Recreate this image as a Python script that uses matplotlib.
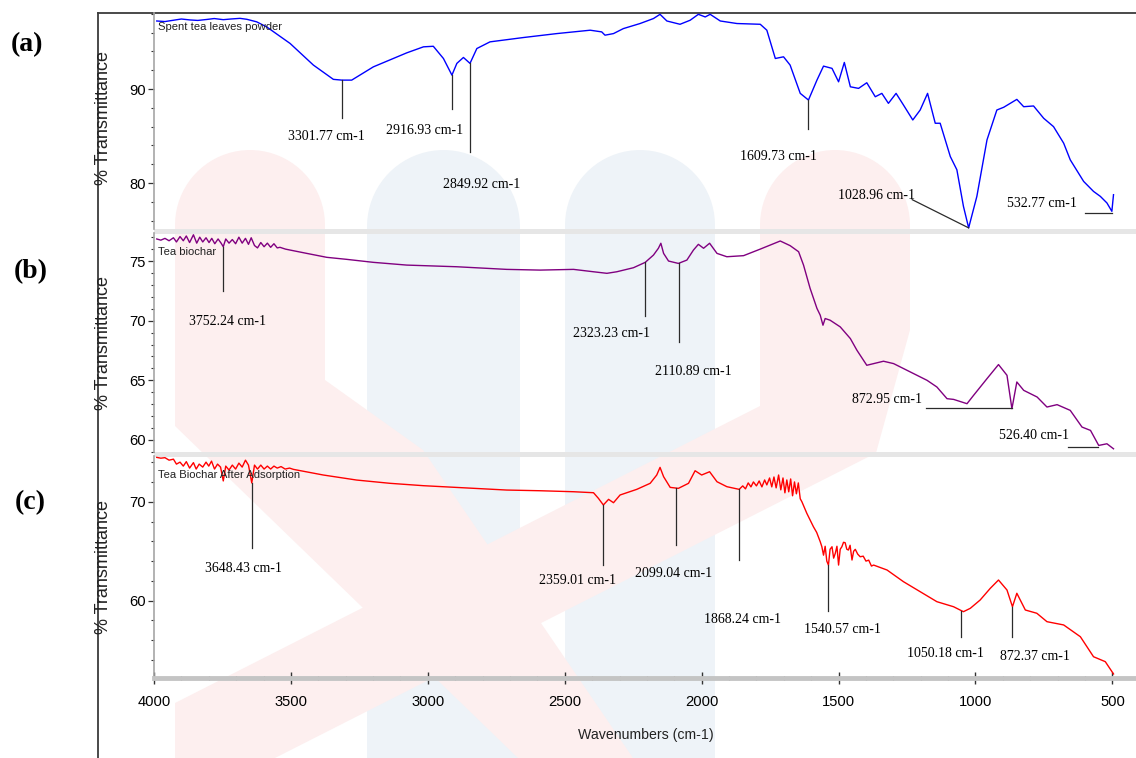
import numpy as np
import matplotlib
matplotlib.use("Agg")
import matplotlib.pyplot as plt
from matplotlib import font_manager as fm
from matplotlib.patches import Polygon, Rectangle

# ---------------- data ----------------
# (a) Spent tea leaves powder
a_wn = [3990, 3960, 3929, 3900, 3868, 3840, 3808, 3780, 3747, 3720, 3686, 3661, 3625, 3588,
        3503, 3418, 3345, 3314, 3278, 3199, 3077, 3016, 2980, 2943, 2912, 2894, 2870, 2846,
        2821, 2773, 2651, 2529, 2407, 2365, 2353, 2322, 2286, 2225, 2176, 2152, 2127, 2079,
        2042, 2012, 1987, 1969, 1932, 1871, 1786, 1762, 1731, 1701, 1677, 1640, 1610, 1579,
        1555, 1524, 1500, 1479, 1457, 1427, 1397, 1366, 1342, 1318, 1290, 1263, 1229, 1202,
        1175, 1147, 1129, 1092, 1068, 1044, 1025, 995, 958, 922, 897, 849, 824, 788, 751,
        715, 678, 654, 605, 569, 544, 520, 502, 496]
a_T = [97.24, 97.18, 97.32, 97.45, 97.35, 97.30, 97.40, 97.50, 97.38, 97.45, 97.52, 97.42, 97.15, 96.60,
       94.85, 92.55, 91.03, 90.95, 90.95, 92.36, 93.85, 94.49, 94.55, 93.25, 91.48, 92.73, 93.36, 92.73,
       94.31, 95.02, 95.48, 95.90, 96.26, 96.08, 95.73, 95.90, 96.43, 96.97, 97.50, 97.95, 97.24, 96.89,
       97.32, 97.95, 97.67, 97.95, 97.24, 96.97, 96.89, 96.26, 93.25, 93.43, 92.55, 89.54, 88.83, 90.95,
       92.44, 92.20, 90.77, 92.83, 90.24, 90.07, 90.67, 89.18, 89.54, 88.48, 89.54, 88.30, 86.71, 87.77,
       89.54, 86.36, 86.36, 82.82, 81.41, 77.52, 75.23, 78.58, 84.59, 87.77, 88.06, 88.90, 88.12, 88.20, 86.89,
       86.00, 84.24, 82.47, 80.17, 79.11, 78.58, 77.88, 76.99, 78.76]

# (b) Tea biochar
b_wn = [3990, 3975, 3960, 3945, 3929, 3918, 3905, 3893, 3882, 3870, 3856, 3844, 3833, 3822, 3810,
        3799, 3789, 3778, 3766, 3755, 3747, 3738, 3726, 3714, 3702, 3690, 3678, 3666, 3655, 3645,
        3633, 3622, 3610, 3598, 3586, 3574, 3562, 3550, 3540, 3520, 3503, 3442, 3369, 3296, 3199,
        3077, 2894, 2712, 2590, 2468, 2395, 2346, 2310, 2249, 2206, 2176, 2158, 2149, 2139, 2121,
        2085, 2054, 2030, 2012, 1993, 1971, 1944, 1908, 1847, 1786, 1713, 1677, 1646, 1628, 1604,
        1579, 1567, 1557, 1549, 1531, 1494, 1457, 1433, 1397, 1372, 1336, 1299, 1238, 1177, 1141,
        1104, 1080, 1031, 1007, 958, 916, 885, 867, 849, 824, 775, 739, 702, 654, 611, 580, 550, 520, 496]
b_T = [76.85, 76.75, 76.90, 76.70, 76.95, 76.60, 77.05, 76.70, 77.10, 76.55, 77.20, 76.50, 77.00, 76.60, 76.95,
       76.55, 76.90, 76.45, 76.85, 76.50, 76.20, 76.85, 76.50, 76.80, 76.45, 77.00, 76.50, 76.90, 76.40, 76.95,
       76.30, 76.10, 76.55, 76.20, 76.50, 76.15, 76.45, 76.10, 76.15, 76.00, 75.92, 75.64, 75.31, 75.14, 74.89,
       74.66, 74.52, 74.30, 74.24, 74.30, 74.10, 73.97, 74.10, 74.44, 74.89, 75.50, 76.07, 76.49, 75.64, 75.00,
       74.80, 75.08, 75.92, 76.40, 76.07, 76.49, 75.64, 75.36, 75.45, 76.00, 76.68, 76.29, 75.78, 74.66, 72.71,
       71.03, 70.46, 69.62, 70.18, 70.04, 69.48, 68.50, 67.52, 66.26, 66.40, 66.60, 66.40, 65.70, 65.00, 64.44,
       63.46, 63.40, 63.04, 63.74, 65.14, 66.32, 65.42, 62.62, 64.86, 64.16, 63.60, 62.76, 62.96, 62.48, 61.08,
       60.80, 59.54, 59.68, 59.26]

# (c) Tea Biochar After Adsorption
c_wn = [3990, 3975, 3960, 3945, 3929, 3918, 3905, 3893, 3882, 3870, 3856, 3846, 3835, 3822, 3810,
        3800, 3790, 3779, 3768, 3757, 3747, 3738, 3726, 3714, 3702, 3690, 3678, 3666, 3655, 3643,
        3633, 3622, 3610, 3598, 3586, 3574, 3562, 3550, 3536, 3521, 3505, 3491, 3382, 3260, 3138,
        3016, 2833, 2712, 2590, 2468, 2395, 2377, 2359, 2340, 2322, 2298, 2237, 2188, 2164, 2152,
        2139, 2115, 2085, 2048, 2024, 2000, 1971, 1944, 1908, 1863, 1850, 1840, 1830, 1820, 1811,
        1800, 1790, 1780, 1770, 1762, 1752, 1744, 1736, 1728, 1719, 1711, 1703, 1696, 1689, 1682,
        1675, 1668, 1661, 1654, 1647, 1640, 1634, 1616, 1592, 1580, 1567, 1561, 1555, 1549, 1543,
        1537, 1531, 1524, 1518, 1512, 1506, 1500, 1494, 1488, 1482, 1476, 1470, 1464, 1458, 1451,
        1445, 1439, 1430, 1421, 1410, 1400, 1390, 1380, 1372, 1323, 1263, 1202, 1141, 1080, 1044,
        1019, 983, 946, 916, 885, 865, 849, 818, 776, 739, 678, 617, 569, 526, 496]
c_T = [74.48, 74.40, 74.45, 74.20, 74.30, 73.80, 74.00, 73.60, 74.05, 73.40, 73.95, 73.30, 73.80, 73.50, 74.00,
       73.60, 74.10, 73.30, 73.80, 73.50, 72.10, 73.60, 73.20, 73.70, 73.30, 73.90, 73.50, 74.20, 73.70, 71.90,
       73.70, 73.30, 73.70, 73.30, 73.60, 73.30, 73.60, 73.40, 73.55, 73.30, 73.40, 73.27, 72.70, 72.19, 71.86,
       71.62, 71.35, 71.18, 71.11, 71.01, 70.91, 70.34, 69.67, 70.24, 69.90, 70.68, 71.25, 71.86, 72.70, 73.47,
       72.53, 71.45, 71.35, 71.86, 73.13, 72.70, 73.03, 72.02, 71.52, 71.25, 71.60, 71.30, 71.90, 71.50, 72.00,
       71.60, 72.10, 71.50, 72.20, 71.70, 72.40, 71.50, 72.50, 71.40, 72.70, 71.20, 72.40, 70.90, 72.20, 71.00,
       72.30, 70.60, 72.00, 70.80, 71.90, 70.30, 70.00, 68.83, 67.48, 66.90, 65.96, 65.45, 64.60, 65.50, 64.00,
       63.60, 65.20, 65.45, 64.30, 64.79, 65.50, 63.60, 65.20, 65.45, 65.90, 65.86, 65.20, 65.12, 65.60, 64.11,
       65.00, 65.19, 64.70, 64.44, 64.50, 64.00, 64.10, 63.50, 63.60, 63.10, 61.92, 60.91, 59.90, 59.39, 58.89,
       59.23, 60.07, 61.25, 62.09, 61.08, 59.39, 60.75, 59.06, 58.73, 57.88, 57.55, 56.36, 54.34, 53.84, 52.60]

titles = ["Spent tea leaves powder", "Tea biochar", "Tea Biochar After Adsorption"]
panel_tags = ["(a)", "(b)", "(c)"]
colors = ["#0000ff", "#800080", "#ff0000"]

# peak annotations: label text, marker wavenumber, marker bottom, label position (wn, T)
a_peaks = [("3301.77 cm-1", 3314, 86.9, 3372, 85.0),
           ("2916.93 cm-1", 2912, 87.9, 3012, 85.6),
           ("2849.92 cm-1", 2846, 83.3, 2805, 79.8),
           ("1609.73 cm-1", 1610, 85.8, 1721, 82.8)]
b_peaks = [("3752.24 cm-1", 3747, 72.45, 3730, 69.9),
           ("2323.23 cm-1", 2206, 70.4, 2331, 68.9),
           ("2110.89 cm-1", 2081, 68.2, 2031, 65.7)]
c_peaks = [("3648.43 cm-1", 3643, 65.3, 3675, 63.27),
           ("2359.01 cm-1", 2359, 63.6, 2453, 62.09),
           ("2099.04 cm-1", 2093, 65.6, 2102, 62.7),
           ("1868.24 cm-1", 1863, 64.1, 1852, 58.12),
           ("1540.57 cm-1", 1537, 59.0, 1485, 57.11),
           ("1050.18 cm-1", 1052, 56.3, 1110, 54.69),
           ("872.37 cm-1", 865, 56.3, 784, 54.34)]

# ---------------- figure ----------------
W, H = 1136, 758
fig = plt.figure(figsize=(W / 100, H / 100), dpi=100)
fig.patch.set_facecolor("white")


def fx(px):
    return px / W


def fy(py):
    return 1 - py / H


names = {f.name for f in fm.fontManager.ttflist}
NARROW = "Liberation Sans Narrow" if "Liberation Sans Narrow" in names else "Liberation Sans"
nscale = 1.0 if NARROW == "Liberation Sans Narrow" else 0.85
SERIF = "Liberation Serif"
SANS = "Liberation Sans"

# background (watermark + frame) in pixel coordinates
bg = fig.add_axes([0, 0, 1, 1], zorder=0)
bg.set_xlim(0, W)
bg.set_ylim(H, 0)
bg.axis("off")


def arc(x0, x1, ytop, n=40):
    r = (x1 - x0) / 2
    cx, cy = (x0 + x1) / 2, ytop + r
    t = np.linspace(np.pi, 0, n)
    return [(cx + r * np.cos(tt), cy - r * np.sin(tt)) for tt in t]


RED_W = "#fdefef"
BLUE_W = "#eef3f8"
for x0, x1 in [(367, 520), (565, 715)]:
    pts = [(x0, H)] + arc(x0, x1, 150) + [(x1, H)]
    bg.add_patch(Polygon(pts, closed=True, facecolor=BLUE_W, edgecolor="none", zorder=1))
left_red = [(175, 426)] + arc(175, 325, 150) + [(325, 380), (423, 450), (633, H), (518, H)]
bg.add_patch(Polygon(left_red, closed=True, facecolor=RED_W, edgecolor="none", zorder=2))
right_red = arc(760, 910, 150) + [(910, 330), (876, 453), (620, 583), (275, H), (175, H), (175, 703), (760, 406)]
bg.add_patch(Polygon(right_red, closed=True, facecolor=RED_W, edgecolor="none", zorder=2))

# separator bands
for y0 in (228.5, 451.5):
    bg.add_patch(Rectangle((154, y0), W - 154, 5, facecolor="#e6e6e6", edgecolor="none", zorder=3))

# outer frame
bg.plot([97.5, 97.5], [12.7, H], color="#3c3c3c", lw=1.3, zorder=4)
bg.plot([97.5, W], [12.7, 12.7], color="#3c3c3c", lw=1.3, zorder=4)

# ---------------- panels ----------------
XL = (4000, 417.5)
panels = [
    dict(top=13, bot=229, ylim=(75.11, 98.09), major=[80, 90], minor=np.arange(76, 99, 2),
         wn=a_wn, T=a_T, peaks=a_peaks, title_y=27, tag_xy=(27, 45), ylab_y=118),
    dict(top=233, bot=452, ylim=(58.99, 77.35), major=[60, 65, 70, 75], minor=np.arange(59, 78, 1),
         wn=b_wn, T=b_T, peaks=b_peaks, title_y=252, tag_xy=(31, 272), ylab_y=343),
    dict(top=456, bot=678, ylim=(52.19, 74.62), major=[60, 70], minor=np.arange(54, 75, 2),
         wn=c_wn, T=c_T, peaks=c_peaks, title_y=475, tag_xy=(30, 503), ylab_y=567),
]

axes = []
for i, p in enumerate(panels):
    ax = fig.add_axes([fx(154), fy(p["bot"]), (1135 - 154) / W, (p["bot"] - p["top"]) / H], zorder=5)
    ax.set_facecolor("none")
    ax.set_xlim(*XL)
    ax.set_ylim(*p["ylim"])
    for s in ("top", "right"):
        ax.spines[s].set_visible(False)
    ax.spines["left"].set_color("#a5a5a5")
    ax.spines["left"].set_linewidth(1.2)
    ax.set_yticks(p["major"])
    ax.set_yticks(p["minor"], minor=True)
    ax.set_yticklabels([str(v) for v in p["major"]], fontfamily=NARROW, fontsize=12.5 * nscale)
    ax.tick_params(axis="y", which="major", direction="out", length=4, width=0.9, color="#333333", pad=2)
    ax.tick_params(axis="y", which="minor", direction="out", length=2.2, width=0.8, color="#333333")

    wn = np.array(p["wn"], dtype=float)
    T = np.array(p["T"], dtype=float)
    ax.plot(wn, T, color=colors[i], lw=1.0, zorder=3)

    # peak markers
    for lab, mw, mbot, lx, ly in p["peaks"]:
        mtop = np.interp(mw, wn[::-1], T[::-1])
        ax.plot([mw, mw], [mtop, mbot], color="#2b2b2b", lw=0.9, zorder=4)
        ax.text(lx, ly, lab, family=SERIF, fontsize=10, ha="center", va="center", zorder=4)
    axes.append(ax)

    fig.text(fx(158), fy(p["title_y"]), titles[i], family=NARROW, fontsize=9.5 * nscale,
             ha="left", va="center", color="#222222", zorder=6)
    fig.text(fx(p["tag_xy"][0]), fy(p["tag_xy"][1]), panel_tags[i], family=SERIF, fontsize=20,
             fontweight="bold", ha="center", va="center")
    fig.text(fx(104), fy(p["ylab_y"]), "% Transmittance", family=SANS, fontsize=13,
             rotation=90, ha="center", va="center", color="#222222")

ax_a, ax_b, ax_c = axes

# leader lines for the low-wavenumber peaks
wa = np.array(a_wn, float)[::-1]
ta = np.array(a_T, float)[::-1]
ax_a.plot([1231, 1025], [78.23, np.interp(1025, wa, ta)], color="#2b2b2b", lw=0.9, zorder=4)
ax_a.text(1362, 78.65, "1028.96 cm-1", family=SERIF, fontsize=10, ha="center", va="center")
ax_a.plot([599, 500], [76.82, 76.82], color="#2b2b2b", lw=0.9, zorder=4)
ax_a.text(756, 77.8, "532.77 cm-1", family=SERIF, fontsize=10, ha="center", va="center")

ax_b.plot([1180, 867], [62.67, 62.67], color="#2b2b2b", lw=0.9, zorder=4)
ax_b.text(1322, 63.4, "872.95 cm-1", family=SERIF, fontsize=10, ha="center", va="center")
ax_b.plot([661, 551], [59.45, 59.45], color="#2b2b2b", lw=0.9, zorder=4)
ax_b.text(785, 60.38, "526.40 cm-1", family=SERIF, fontsize=10, ha="center", va="center")

# x axes
for ax in (ax_a, ax_b):
    ax.spines["bottom"].set_visible(False)
    ax.set_xticks([])
    ax.set_xticks([], minor=True)

ax_c.spines["bottom"].set_color("#c4c4c4")
ax_c.spines["bottom"].set_linewidth(3.5)
xt = [4000, 3500, 3000, 2500, 2000, 1500, 1000, 500]
ax_c.set_xticks(xt)
ax_c.set_xticks(np.arange(4000, 450, -100), minor=True)
ax_c.set_xticklabels([str(v) for v in xt], fontfamily=NARROW, fontsize=12.5 * nscale)
ax_c.tick_params(axis="x", which="major", direction="inout", length=8, width=1.0, color="#333333", pad=8)
ax_c.tick_params(axis="x", which="minor", direction="inout", length=3.5, width=0.9, color="#333333")

fig.text(fx(646), fy(735), "Wavenumbers (cm-1)", family=NARROW, fontsize=12 * nscale,
         ha="center", va="center", color="#222222")

fig.savefig("out.png", dpi=100, facecolor="white")
